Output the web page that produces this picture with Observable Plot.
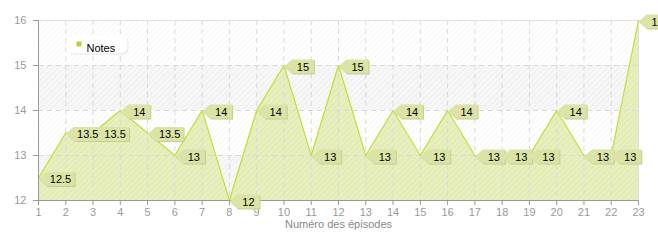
<!DOCTYPE html>
<html><head><meta charset="utf-8">
<script src="https://cdn.jsdelivr.net/npm/d3@7"></script>
<script src="https://cdn.jsdelivr.net/npm/@observablehq/plot@0.6"></script>
<style>body{margin:0;background:#fff} #chart{width:658px;height:240px}</style>
</head><body><div id="chart"></div>
<script>
const episodes = [1,2,3,4,5,6,7,8,9,10,11,12,13,14,15,16,17,18,19,20,21,22,23];
const notes = [12.5,13.5,13.5,14,13.5,13,14,12,14,15,13,15,13,14,13,14,13,13,13,14,13,13,16];
const yTicks = [12,13,14,15,16];
const shadedBands = [[12,13],[14,15]];
const seriesName = "Notes";
const xTitle = "Numéro des épisodes";

const data = episodes.map((ep, i) => ({ep, v: notes[i], label: String(notes[i])}));
const shortLabels = data.filter(d => d.label.length <= 2);
const longLabels = data.filter(d => d.label.length > 2);

function callout(w) {
  return {draw(ctx) {
    ctx.moveTo(0, 0); ctx.lineTo(8, -7); ctx.lineTo(w, -7); ctx.lineTo(w, 7); ctx.lineTo(8, 7); ctx.closePath();
  }};
}
const roundBox = {draw(ctx) {
  const w = 61, h = 18, r = 6;
  ctx.moveTo(r, 0); ctx.lineTo(w - r, 0); ctx.arcTo(w, 0, w, r, r); ctx.lineTo(w, h - r); ctx.arcTo(w, h, w - r, h, r);
  ctx.lineTo(r, h); ctx.arcTo(0, h, 0, h - r, r); ctx.lineTo(0, r); ctx.arcTo(0, 0, r, 0, r); ctx.closePath();
}};
const square = {draw(ctx) { ctx.rect(-2.5, -2.5, 5, 5); }};

const font = "Liberation Sans, Arial, sans-serif";
const lineColor = "#c3df3a";
const areaColor = "#e7f0bd";
const calloutFill = "#dbe4a6";
const calloutShadow = "#c5cf8c";

function calloutMarks(arr, w) {
  return [
    Plot.dot(arr, {x: "ep", y: "v", symbol: callout(w), r: 5, fill: calloutShadow, stroke: "none", dx: 1, dy: 2}),
    Plot.dot(arr, {x: "ep", y: "v", symbol: callout(w), r: 5, fill: calloutFill, stroke: "none", dy: 1}),
    Plot.text(arr, {x: "ep", y: "v", text: "label", dx: (w + 8) / 2, dy: 1.5, fill: "#000", fontSize: 11, fontFamily: font})
  ];
}

const chart = Plot.plot({
  width: 658, height: 240,
  marginLeft: 38, marginRight: 20, marginTop: 20, marginBottom: 40,
  style: {fontFamily: font, fontSize: "11px", background: "#fff"},
  x: {domain: [1, 23]},
  y: {domain: [12, 16]},
  marks: [
    Plot.rect(shadedBands, {y1: d => d[0], y2: d => d[1], fill: "#f7f7f7"}),
    Plot.areaY(data, {x: "ep", y1: 12, y2: "v", fill: areaColor}),
    Plot.frame({fill: "url(#hatch)", stroke: "none"}),
    Plot.ruleX(episodes.slice(1, -1), {stroke: "#dadada", strokeDasharray: "5,4"}),
    Plot.ruleY(yTicks.slice(1, -1), {stroke: "#dadada", strokeDasharray: "5,4"}),
    Plot.ruleY([16], {stroke: "#e0e0e0"}),
    Plot.ruleX([23], {stroke: "#e0e0e0"}),
    Plot.line(data, {x: "ep", y: "v", stroke: lineColor, strokeWidth: 1.2}),
    Plot.ruleX([1], {stroke: "#999"}),
    Plot.ruleY([12], {stroke: "#999"}),
    Plot.axisX({ticks: episodes, tickFormat: d => String(d), tickSize: 5, tickPadding: 3, color: "#999", stroke: "#999", label: null, fontSize: 11}),
    Plot.axisY({ticks: yTicks, tickFormat: d => String(d), tickSize: 5, tickPadding: 7, color: "#999", stroke: "#999", label: null, fontSize: 11}),
    Plot.text([xTitle], {frameAnchor: "bottom", dy: 27, fill: "#888", fontSize: 11}),
    ...calloutMarks(shortLabels, 30),
    ...calloutMarks(longLabels, 36),
    Plot.dot([seriesName], {frameAnchor: "top-left", symbol: roundBox, r: 5, dx: 29, dy: 16, fill: "#e4e4e4", stroke: "none"}),
    Plot.dot([seriesName], {frameAnchor: "top-left", symbol: roundBox, r: 5, dx: 28, dy: 15, fill: "#fff", stroke: "none"}),
    Plot.dot([seriesName], {frameAnchor: "top-left", symbol: square, r: 5, dx: 40.5, dy: 23.5, fill: "#b5d62f", stroke: "none"}),
    Plot.text([seriesName], {frameAnchor: "top-left", text: d => d, dx: 48, dy: 24, textAnchor: "start", fill: "#000", fontSize: 11})
  ]
});

chart.insertAdjacentHTML("afterbegin",
  '<defs><pattern id="hatch" width="4" height="4" patternUnits="userSpaceOnUse" patternTransform="rotate(45)">' +
  '<line x1="0" y1="0" x2="0" y2="4" stroke="rgba(0,0,0,0.045)" stroke-width="1.5"/></pattern></defs>');
document.getElementById("chart").appendChild(chart);
</script>
</body></html>
